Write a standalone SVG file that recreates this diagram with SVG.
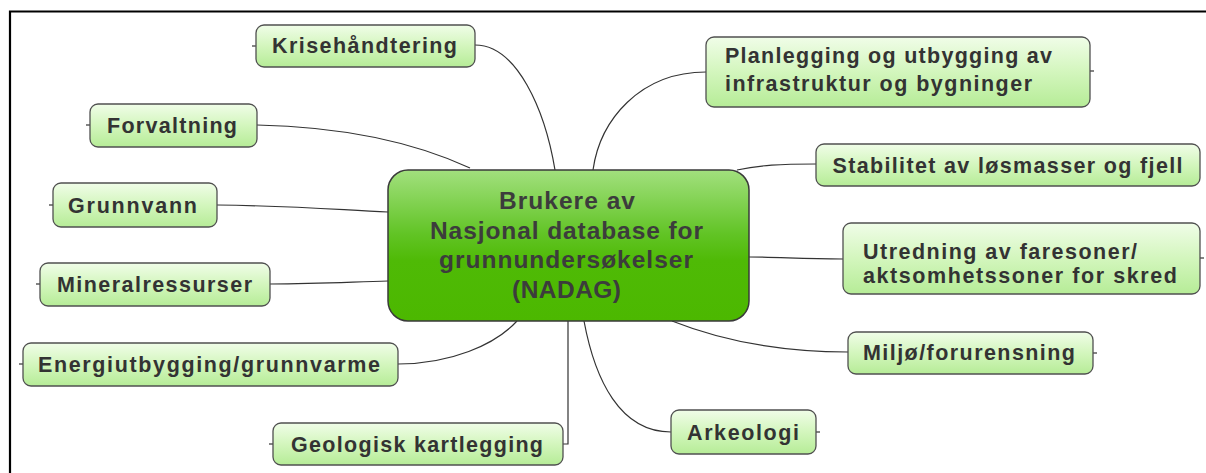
<svg xmlns="http://www.w3.org/2000/svg" width="1206" height="473" viewBox="0 0 1206 473">
<style>
.leaf{fill:url(#leafG);stroke:#505050;stroke-width:1.3}
.lt{font-family:"Liberation Sans",Arial,sans-serif;font-weight:bold;font-size:21.5px;fill:#333333}
.ct{font-family:"Liberation Sans",Arial,sans-serif;font-weight:bold;font-size:24.5px;fill:#3c3c3c;text-anchor:middle}
.m{text-anchor:middle}
.con path,.con line{fill:none;stroke:#333333;stroke-width:1.2}
</style>
<defs>
<linearGradient id="leafG" x1="0" y1="0" x2="0" y2="1">
<stop offset="0" stop-color="#f0fde8"/>
<stop offset="0.5" stop-color="#d3f6bd"/>
<stop offset="1" stop-color="#b6ec97"/>
</linearGradient>
<linearGradient id="centG" x1="0" y1="0" x2="0" y2="1">
<stop offset="0" stop-color="#a2e07e"/>
<stop offset="0.42" stop-color="#62c426"/>
<stop offset="0.6" stop-color="#4fba06"/>
<stop offset="1" stop-color="#4cb800"/>
</linearGradient>
</defs>
<rect width="1206" height="473" fill="#ffffff"/>
<path d="M10,473 V11.5 H1206" fill="none" stroke="#000" stroke-width="2.2"/>
<g class="con" id="connectors">
<path d="M475,45 C517,45 545,110 555,170"/>
<path d="M706,72 C640,72 600,120 593,170"/>
<path d="M257,125 C350,127 420,145 470,168"/>
<path d="M217,205 C300,206 340,210 388,212"/>
<path d="M270,284 C320,284 350,282 388,281"/>
<path d="M398,364 C450,364 495,345 517,321"/>
<path d="M563,444 L568,444 L568,321"/>
<path d="M671,432 C620,432 595,380 584,321"/>
<path d="M848,352 C780,352 720,340 672,321"/>
<path d="M843,259 C800,259 780,257 749,257"/>
<path d="M816,164 C780,164 760,165 737,170"/>
<line x1="252" y1="46" x2="256" y2="46"/>
<line x1="86" y1="125" x2="90" y2="125"/>
<line x1="49" y1="205" x2="53" y2="205"/>
<line x1="36" y1="284" x2="40" y2="284"/>
<line x1="19" y1="364" x2="23" y2="364"/>
<line x1="269" y1="444" x2="273" y2="444"/>
<line x1="1090" y1="71" x2="1094" y2="71"/>
<line x1="1200" y1="258" x2="1204" y2="258"/>
<line x1="1093" y1="353" x2="1097" y2="353"/>
<line x1="816" y1="432" x2="820" y2="432"/>
</g>
<g id="center">
<rect x="388" y="170" width="361" height="151" rx="20" fill="url(#centG)" stroke="#3a3a3a" stroke-width="1.5"/>
<text class="ct" x="567" y="209" textLength="136" lengthAdjust="spacing">Brukere av</text>
<text class="ct" x="566.5" y="239" textLength="273" lengthAdjust="spacing">Nasjonal database for</text>
<text class="ct" x="566" y="268" textLength="254" lengthAdjust="spacing">grunnundersøkelser</text>
<text class="ct" x="566.5" y="298" textLength="109" lengthAdjust="spacing">(NADAG)</text>
</g>
<g id="krisehandtering">
<rect class="leaf" x="256" y="25" width="219" height="42" rx="8"/>
<text class="lt m" x="364.5" y="53" textLength="185" lengthAdjust="spacing">Krisehåndtering</text>
</g>
<g id="forvaltning">
<rect class="leaf" x="90" y="104" width="167" height="43" rx="8"/>
<text class="lt m" x="172" y="133" textLength="130" lengthAdjust="spacing">Forvaltning</text>
</g>
<g id="grunnvann">
<rect class="leaf" x="53" y="183" width="164" height="44" rx="8"/>
<text class="lt m" x="132.5" y="212.5" textLength="129" lengthAdjust="spacing">Grunnvann</text>
</g>
<g id="mineralressurser">
<rect class="leaf" x="40" y="263" width="230" height="43" rx="8"/>
<text class="lt m" x="154.5" y="292" textLength="195" lengthAdjust="spacing">Mineralressurser</text>
</g>
<g id="energiutbygging">
<rect class="leaf" x="23" y="343" width="375" height="43" rx="8"/>
<text class="lt m" x="209" y="371.5" textLength="342" lengthAdjust="spacing">Energiutbygging/grunnvarme</text>
</g>
<g id="geologisk">
<rect class="leaf" x="273" y="423" width="290" height="42" rx="8"/>
<text class="lt m" x="417" y="451.5" textLength="252" lengthAdjust="spacing">Geologisk kartlegging</text>
</g>
<g id="arkeologi">
<rect class="leaf" x="671" y="410" width="145" height="44" rx="8"/>
<text class="lt m" x="743" y="440" textLength="112" lengthAdjust="spacing">Arkeologi</text>
</g>
<g id="miljo">
<rect class="leaf" x="848" y="332" width="245" height="42" rx="8"/>
<text class="lt m" x="969" y="359.5" textLength="212" lengthAdjust="spacing">Miljø/forurensning</text>
</g>
<g id="utredning">
<rect class="leaf" x="843" y="223" width="357" height="71" rx="8"/>
<text class="lt" x="863" y="259" textLength="274" lengthAdjust="spacing">Utredning av faresoner/</text>
<text class="lt" x="863" y="283" textLength="314" lengthAdjust="spacing">aktsomhetssoner for skred</text>
</g>
<g id="stabilitet">
<rect class="leaf" x="816" y="144" width="384" height="42" rx="8"/>
<text class="lt m" x="1007.5" y="173" textLength="350" lengthAdjust="spacing">Stabilitet av løsmasser og fjell</text>
</g>
<g id="planlegging">
<rect class="leaf" x="706" y="37" width="384" height="70" rx="8"/>
<text class="lt" x="725" y="63" textLength="327" lengthAdjust="spacing">Planlegging og utbygging av</text>
<text class="lt" x="725" y="91" textLength="307" lengthAdjust="spacing">infrastruktur og bygninger</text>
</g>
</svg>
